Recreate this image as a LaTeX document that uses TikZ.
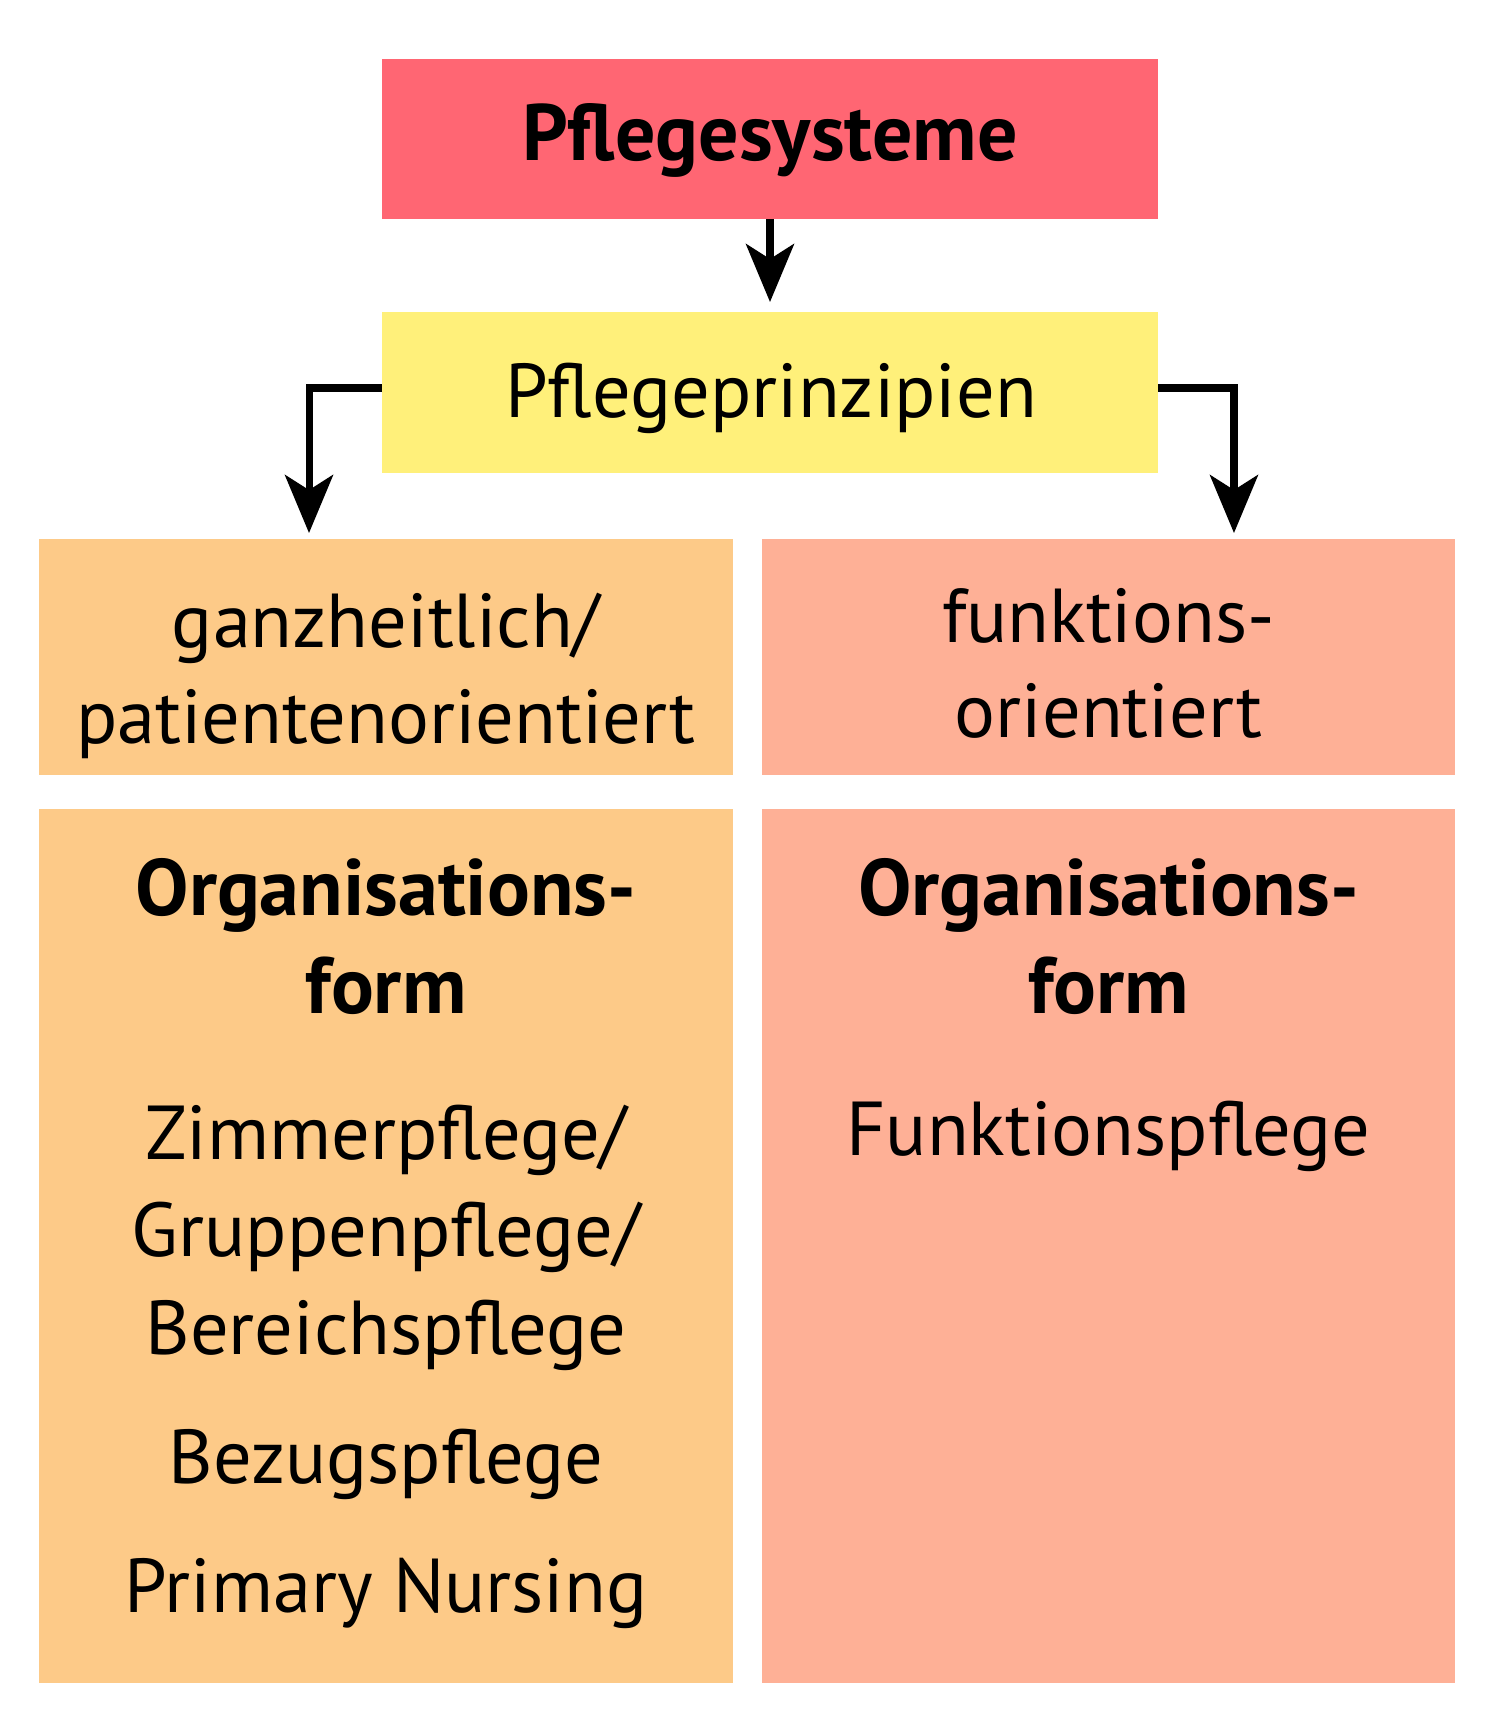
\documentclass[tikz,border=0pt]{standalone}
\usepackage{fontspec}
\setmainfont{PT Sans}
\usetikzlibrary{arrows.meta}

\definecolor{sysred}{RGB}{255,102,115}
\definecolor{prinzyellow}{RGB}{255,240,122}
\definecolor{ganzorange}{RGB}{253,202,136}
\definecolor{funksalmon}{RGB}{254,176,150}

\tikzset{
  box/.style={rectangle, inner sep=0pt, outer sep=0pt, draw=none},
  lbl/.style={anchor=base, inner sep=0pt, font=\fontsize{43.5}{55}\selectfont},
  hdr/.style={lbl, font=\fontsize{45.5}{55}\selectfont\bfseries},
  arr/.style={line width=4pt, -{Stealth[length=1.16cm,width=0.96cm,inset=0.3cm]}}
}

\begin{document}
\begin{tikzpicture}[x=0.02cm,y=-0.02cm]
\useasboundingbox (0,0) rectangle (1500,1736);

% boxes
\node[box, fill=sysred, minimum width=15.52cm, minimum height=3.2cm] (sys) at (770,139) {};
\node[box, fill=prinzyellow, minimum width=15.52cm, minimum height=3.22cm] (prinz) at (770,392.5) {};
\node[box, fill=ganzorange, minimum width=13.88cm, minimum height=4.72cm] (ganz) at (386,657) {};
\node[box, fill=funksalmon, minimum width=13.86cm, minimum height=4.72cm] (funk) at (1108.5,657) {};
\node[box, fill=ganzorange, minimum width=13.88cm, minimum height=17.48cm] (orgL) at (386,1246) {};
\node[box, fill=funksalmon, minimum width=13.86cm, minimum height=17.48cm] (orgR) at (1108.5,1246) {};

% texts
\node[hdr] (tsys) at (770,161) {Pflegesysteme};
\node[lbl] (tprinz) at (771,418) {Pflegeprinzipien};

\node[lbl] (tganz1) at (386,647) {ganzheitlich/};
\node[lbl] (tganz2) at (386,743) {patientenorientiert};
\node[lbl] (tfunk1) at (1108.5,642) {funktions-};
\node[lbl] (tfunk2) at (1108.5,737) {orientiert};

\node[hdr] (torgL1) at (386,915) {Organisations-};
\node[hdr] (torgL2) at (386,1013) {form};
\node[hdr] (torgR1) at (1108.5,915) {Organisations-};
\node[hdr] (torgR2) at (1108.5,1013) {form};

\node[lbl] (tzimmer) at (386,1159) {Zimmerpflege/};
\node[lbl] (tgruppe) at (386,1256) {Gruppenpflege/};
\node[lbl] (tbereich) at (386,1354) {Bereichspflege};
\node[lbl] (tbezug) at (386,1483) {Bezugspflege};
\node[lbl] (tprimary) at (386,1612) {Primary Nursing};
\node[lbl] (tfunkpfl) at (1108.5,1155) {Funktionspflege};

% arrows
\draw[arr] (sys.south) -- ([yshift=0.2cm]prinz.north);
\draw[arr] ([yshift=0.09cm]prinz.west) -| ([xshift=-1.54cm,yshift=0.12cm]ganz.north);
\draw[arr] ([yshift=0.09cm]prinz.east) -| ([xshift=2.51cm,yshift=0.12cm]funk.north);

\end{tikzpicture}
\end{document}
